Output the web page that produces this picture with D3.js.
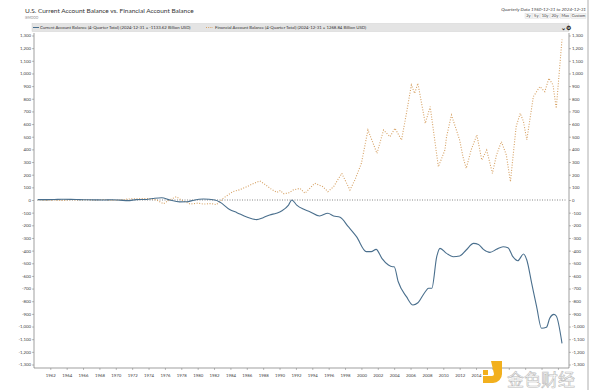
<!DOCTYPE html>
<html><head><meta charset="utf-8">
<script src="https://cdn.jsdelivr.net/npm/d3@7"></script>
<style>body{margin:0;background:#fff;font-family:Lato,"Noto Sans",sans-serif}</style>
</head><body><svg id="c" width="600" height="390"></svg>
<script>
const caDates=[1961.0,1962,1963,1964,1965,1966,1967,1968,1969,1970,1971,1972,1973,1974,1975,1976.1,1977.1,1978.3,1979.2,1979.8,1981.2,1982.6,1983.2,1984.4,1985.3,1986.5,1987.7,1988.5,1989.3,1990.1,1990.8,1991.6,1992.0,1992.6,1993.4,1994.2,1995.4,1996.4,1997.1,1997.9,1998.9,1999.9,2001.1,2001.7,2002.3,2003.0,2003.8,2004.3,2004.5,2005.0,2006.0,2006.8,2007.4,2008.3,2008.7,2009.1,2009.7,2010.1,2010.9,2011.7,2012.5,2013.3,2014.2,2014.8,2015.4,2016.2,2017.0,2017.8,2018.4,2019.0,2019.6,2020.3,2020.7,2021.3,2021.9,2022.5,2023.1,2023.5,2024.0,2024.3,2025.0];
const caValues=[3,3,4,6,5,3,2,1,0,2,-1,-5,3,4,12,18,0,-15,-14,-5,8,0,-16,-75,-100,-135,-155,-140,-118,-105,-85,-40,0,-40,-72,-92,-126,-105,-126,-137,-211,-290,-408,-408,-390,-461,-514,-527,-527,-646,-764,-830,-812,-725,-698,-698,-448,-382,-422,-448,-443,-395,-343,-351,-390,-414,-390,-369,-377,-448,-480,-427,-474,-659,-843,-1014,-1006,-935,-904,-917,-1133.62];
const faDates=[1961,1962,1963,1964,1965,1966,1967,1968,1969,1970,1971,1972,1973,1974.5,1975.5,1976.3,1977.2,1977.9,1978.5,1979.6,1980.5,1981.2,1982.2,1982.8,1983.6,1984.8,1985.6,1986.5,1987.3,1988.1,1988.8,1989.5,1990.2,1990.6,1991.0,1991.6,1992.2,1993.0,1993.6,1994.8,1995.8,1996.4,1997.1,1998.1,1999.1,1999.7,2000.5,2001.3,2002.4,2003.2,2004.0,2004.6,2005.4,2006.0,2006.6,2007.0,2007.4,2008.3,2008.9,2009.9,2010.7,2010.9,2011.5,2012.1,2012.5,2012.9,2013.3,2013.9,2014.6,2015.2,2015.8,2016.5,2017.0,2017.6,2018.2,2018.7,2019.4,2019.9,2020.3,2020.7,2021.5,2022.3,2022.9,2023.4,2023.9,2024.3,2025.0];
const faValues=[2,-3,0,-4,2,0,3,-2,4,-3,0,8,10,12,0,-30,5,26,0,-32,-25,-32,-28,-37,13,66,80,105,130,150,120,85,60,75,50,55,80,92,53,132,105,66,105,211,79,158,290,553,369,553,500,567,474,685,909,843,922,606,738,263,395,500,672,553,474,343,250,395,514,316,395,211,356,461,356,145,580,685,619,474,817,896,856,962,909,725,1268.84];
const yTicks=d3.range(-1300,1301,100);
const xTickYears=d3.range(1962,2025,2);
const xLabelYears=d3.range(1962,2015,2);
const titleText="U.S. Current Account Balance vs. Financial Account Balance";
const subText="IEMOOO";
const legendCA="Current Account Balance (4-Quarter Total) (2024-12-31 = -1133.62 Billion USD)";
const legendFA="Financial Account Balance (4-Quarter Total) (2024-12-31 = 1268.84 Billion USD)";
const rangeText="Quarterly Data 1960-12-31 to 2024-12-31";
const buttons=["2y","5y","10y","20y","Max","Custom"];

const svg=d3.select("#c");
const L=34,R=569,T=33,B=368;
const x=d3.scaleLinear().domain([1961,2025]).range([38,562]);
const y=d3.scaleLinear().domain([-1300,1300]).range([364.5,35.5]);
const fmt=d=>d3.format(",")(d).replace("\u2212","-");
const blue="#4a6f8d", orange="#d6a163";

svg.append("line").attr("x1",588).attr("x2",588).attr("y1",0).attr("y2",390).attr("stroke","#999").attr("stroke-width",0.8);

svg.append("text").attr("x",25).attr("y",13).attr("font-size",6.5).attr("fill","#333").text(titleText);
svg.append("text").attr("x",25).attr("y",18.5).attr("font-size",3.2).attr("fill","#888").text(subText);
svg.append("text").attr("x",586).attr("y",10.5).attr("text-anchor","end").attr("font-size",4.6).attr("font-style","italic").attr("fill","#444").text(rangeText);
let bx=586;
const bw=[7,7,9,9,10,15];
for(let i=buttons.length-1;i>=0;i--){
  const w=bw[i];
  svg.append("rect").attr("x",bx-w).attr("y",13.2).attr("width",w).attr("height",5.2).attr("fill","#f4f4f4").attr("stroke","#ccc").attr("stroke-width",0.3);
  svg.append("text").attr("x",bx-w/2).attr("y",17.3).attr("text-anchor","middle").attr("font-size",4).attr("fill","#444").text(buttons[i]);
  bx-=w+0.8;
}
svg.append("rect").attr("x",32).attr("y",23.5).attr("width",537).attr("height",8).attr("fill","#e4e4e4").attr("stroke","#c8c8c8").attr("stroke-width",0.4);
svg.append("line").attr("x1",33).attr("x2",39).attr("y1",27.5).attr("y2",27.5).attr("stroke",blue).attr("stroke-width",1);
svg.append("text").attr("x",40).attr("y",29.2).attr("font-size",4.3).attr("fill","#333").text(legendCA);
svg.append("line").attr("x1",206).attr("x2",213).attr("y1",27.5).attr("y2",27.5).attr("stroke",orange).attr("stroke-width",1).attr("stroke-dasharray","1,1.2");
svg.append("text").attr("x",215).attr("y",29.2).attr("font-size",4.3).attr("fill","#333").text(legendFA);
svg.append("text").attr("x",561).attr("y",29.8).attr("font-size",6).attr("font-weight","bold").attr("fill","#222").text("\u2304\u2699");

const gl=svg.append("g").attr("transform",`translate(${L},0)`).call(d3.axisLeft(y).tickValues(yTicks).tickSize(2).tickFormat(fmt));
const gr=svg.append("g").attr("transform",`translate(${R},0)`).call(d3.axisRight(y).tickValues(yTicks).tickSize(2).tickFormat(fmt));
const gb=svg.append("g").attr("transform",`translate(0,${B})`).call(d3.axisBottom(x).tickValues(xTickYears.map(v=>v+0.5)).tickSize(2)
  .tickFormat(d=>xLabelYears.includes(Math.floor(d))?String(Math.floor(d)):""));
[gl,gr,gb].forEach(g=>{g.select(".domain").remove();g.selectAll("line").attr("stroke","#777").attr("stroke-width",0.5);g.selectAll("text").attr("font-size",4.3).attr("fill","#444").attr("font-family","Lato,'Noto Sans',sans-serif");});
gl.selectAll("text").attr("x",-3);
gr.selectAll("text").attr("x",3);
gb.selectAll("text").attr("y",6);
gb.selectAll("text").filter(function(){return this.textContent==="";}).remove();
svg.append("line").attr("x1",L).attr("x2",L).attr("y1",T).attr("y2",B).attr("stroke","#777").attr("stroke-width",0.7);
svg.append("line").attr("x1",R).attr("x2",R).attr("y1",T).attr("y2",B).attr("stroke","#777").attr("stroke-width",0.7);
svg.append("line").attr("x1",L).attr("x2",R).attr("y1",B).attr("y2",B).attr("stroke","#777").attr("stroke-width",0.7);

svg.append("line").attr("x1",L+3).attr("x2",R-2).attr("y1",y(0)).attr("y2",y(0)).attr("stroke","#555").attr("stroke-width",0.7).attr("stroke-dasharray","1,1.5");

const fa=faDates.map((d,i)=>[d,faValues[i]]);
const ca=caDates.map((d,i)=>[d,caValues[i]]);
svg.append("path").datum(fa).attr("fill","none").attr("stroke",orange).attr("stroke-width",1.1).attr("stroke-dasharray","1,1.6")
  .attr("d",d3.line().x(d=>x(d[0])).y(d=>y(d[1])));
svg.append("path").datum(ca).attr("fill","none").attr("stroke",blue).attr("stroke-width",1.1)
  .attr("d",d3.line().curve(d3.curveMonotoneX).x(d=>x(d[0])).y(d=>y(d[1])));

const wm=svg.append("g");
wm.append("path").attr("d","M491,361 h11 v13 a9,9 0 0 1 -9,9 h-10 v-7 h9 a2,2 0 0 0 2,-2 z M483,370 h5 v5 h-5z").attr("fill","#f2b01e");
wm.append("text").attr("x",507).attr("y",386).attr("font-size",17).attr("font-family","'Noto Sans CJK SC'").attr("fill","none").attr("stroke","#bbb").attr("stroke-width",0.6).text("金色财经");
</script></body></html>
